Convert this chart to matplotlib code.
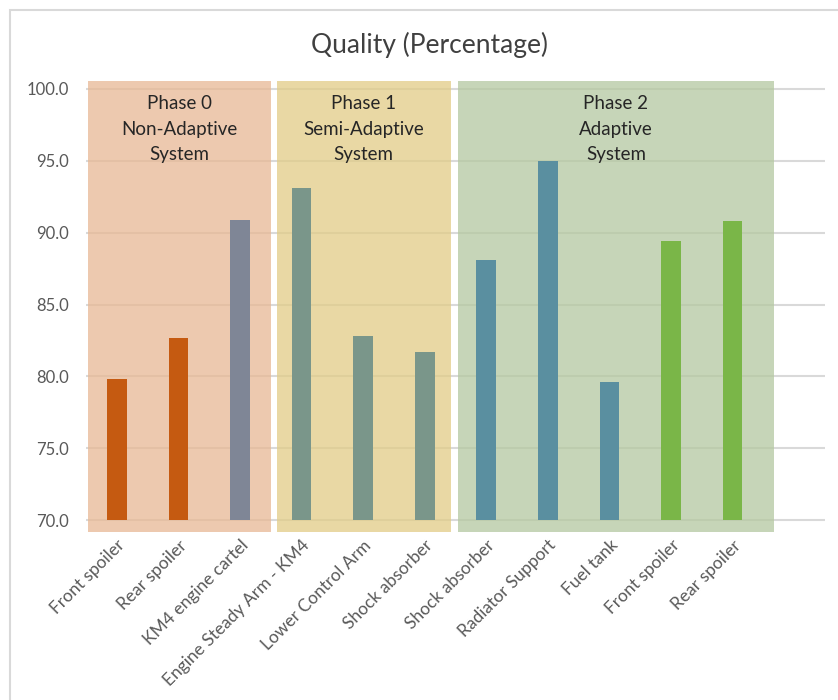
import matplotlib.pyplot as plt
from matplotlib.patches import Rectangle

plt.rcParams['font.family'] = ['Lato', 'DejaVu Sans']

parts = ["Front spoiler", "Rear spoiler", "KM4 engine cartel",
         "Engine Steady Arm - KM4", "Lower Control Arm", "Shock absorber",
         "Shock absorber", "Radiator Support", "Fuel tank",
         "Front spoiler", "Rear spoiler"]
quality = [79.8, 82.7, 90.9, 93.1, 82.8, 81.7, 88.1, 95.0, 79.6, 89.4, 90.8]
bar_colors = ["#C55A11", "#C55A11", "#7F8696", "#7A968A", "#7A968A", "#7A968A",
              "#5A8FA0", "#5A8FA0", "#5A8FA0", "#7AB648", "#7AB648"]

phase_labels = ["Phase 0\nNon-Adaptive\nSystem",
                "Phase 1\nSemi-Adaptive\nSystem",
                "Phase 2\nAdaptive\nSystem"]
phase_spans = [(-0.47, 2.5), (2.6, 5.42), (5.54, 10.67)]
phase_colors = ["#E8B894", "#E2CC86", "#B4C8A0"]

fig = plt.figure(figsize=(8.38, 7.0), dpi=100)
# light chart frame
fig.patches.append(Rectangle((10 / 838, -0.1), 1.2, 1 - 10 / 700 + 0.1,
                             transform=fig.transFigure, fill=False,
                             edgecolor="#D9D9D9", linewidth=1.5))

ax = fig.add_axes([86 / 838, 1 - 534.4 / 700, (825 - 86) / 838, (534.4 - 74.6) / 700])
ax.set_xlim(-0.5, 11.5)
ax.set_ylim(69, 101)

for y in range(70, 101, 5):
    ax.axhline(y, color="#D9D9D9", linewidth=1.5, zorder=1)

for (x0, x1), col, lab in zip(phase_spans, phase_colors, phase_labels):
    ax.add_patch(Rectangle((x0, 69.17), x1 - x0, 100.56 - 69.17, facecolor=col,
                           alpha=0.75, edgecolor="none", zorder=2))
    ax.text((x0 + x1) / 2, 99.55, lab, ha="center", va="top", fontsize=13.5,
            color="#262626", linespacing=1.6, zorder=4)

xs = list(range(len(parts)))
ax.bar(xs, [q - 70 for q in quality], bottom=70, width=0.32,
       color=bar_colors, zorder=3)

ax.set_yticks(range(70, 101, 5))
ax.set_yticklabels([f"{v:.1f}" for v in range(70, 101, 5)], fontsize=12, color="#595959")
ax.set_xticks(xs)
ax.set_xticklabels(parts, rotation=45, ha="right", rotation_mode="anchor",
                   fontsize=12.5, color="#595959")
ax.tick_params(length=0, axis="both")
ax.tick_params(axis="y", pad=12)
ax.tick_params(axis="x", pad=2)
for s in ax.spines.values():
    s.set_visible(False)

fig.text(429 / 838, 1 - 45 / 700, "Quality (Percentage)", ha="center", va="center",
         fontsize=19, color="#404040")

fig.savefig("out.png", dpi=100)
